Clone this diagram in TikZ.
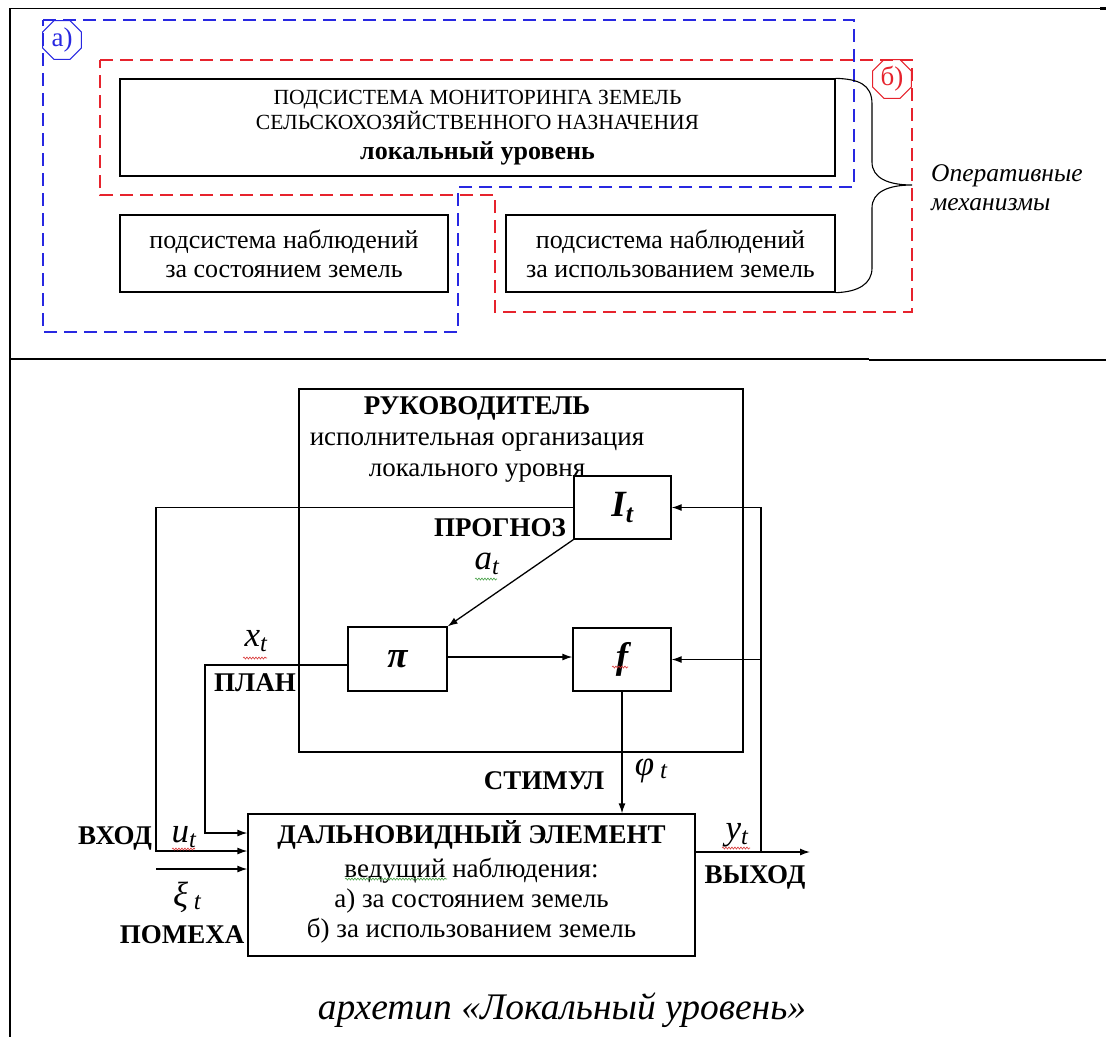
\documentclass[tikz,border=0pt]{standalone}
\usepackage{fontspec}
\setmainfont{Liberation Serif}
\usetikzlibrary{shapes.geometric,arrows.meta,decorations.pathmorphing}

\definecolor{zblue}{RGB}{40,40,225}
\definecolor{zred}{RGB}{230,35,45}
\definecolor{sqred}{RGB}{215,50,50}
\definecolor{sqgreen}{RGB}{70,160,70}

\newcommand\fs[2]{\fontsize{#1}{#2}\selectfont}
\newcommand\vsub[2]{#1\textsubscript{#2}}

\begin{document}
\begin{tikzpicture}[x=1pt,y=-1pt,
  frameline/.style={line width=2pt},
  box/.style={draw, line width=1.3pt, align=center, inner sep=0pt},
  zoneblue/.style={draw=zblue, line width=1.6pt, dash pattern=on 13pt off 7pt},
  zonered/.style={draw=zred, line width=1.6pt, dash pattern=on 13pt off 7pt},
  tag/.style={regular polygon, regular polygon sides=8, minimum size=42pt,
    inner sep=0pt, line width=1pt, font=\fs{27}{28}},
  wire/.style={line width=1.3pt},
  arr/.style={wire, -{Latex[length=10pt,width=7pt]}},
  lbl/.style={inner sep=0pt, font=\fs{27}{28}\bfseries},
  sym/.style={inner sep=0pt, font=\fs{35}{35}\itshape},
  squig/.style={decorate, decoration={snake, amplitude=1pt, segment length=3pt},
    line width=0.6pt},
]
\useasboundingbox (0,0) rectangle (1106,1037);

% table rules
\draw[frameline] (10,8) -- (10,1037);
\draw[line width=1.5pt] (9,8.5) -- (1100,8.5);
\draw[line width=2.5pt] (1100,8.5) -- (1106,8.5);
\draw[line width=1.3pt] (9,359) -- (869,359);
\draw[line width=2.5pt] (869,360) -- (1106,360);

% ---------- upper panel ----------
\draw[zoneblue] (43,20) -- (854,20) -- (854,187) -- (458,187) -- (458,332) -- (43,332) -- cycle;
\draw[zonered] (100,60) -- (912,60) -- (912,312) -- (495,312) -- (495,195) -- (100,195) -- cycle;

\node[tag, draw=zblue, text=zblue] (ta) at (62,40) {а)};
\node[tag, draw=zred, text=zred] (tb) at (892,79) {б)};

\node[box, minimum width=715, minimum height=97, font=\fs{21.6}{25}] (mon) at (477.5,127.5)
  {ПОДСИСТЕМА МОНИТОРИНГА ЗЕМЕЛЬ\\ СЕЛЬСКОХОЗЯЙСТВЕННОГО НАЗНАЧЕНИЯ\\[5pt]
   {\fs{26}{28}\bfseries локальный уровень}};
\node[box, minimum width=328, minimum height=77, font=\fs{26}{29}] (obs1) at (284,253.5)
  {подсистема наблюдений\\за состоянием земель};
\node[box, minimum width=329, minimum height=77, font=\fs{26}{29}] (obs2) at (670.5,253.5)
  {подсистема наблюдений\\за использованием земель};

% brace grouping the operative mechanisms
\coordinate (tip) at (912,185);
\draw[line width=1.1pt] (mon.north east) .. controls (858,79) and (872,84) .. (872,104)
  -- (872,162) .. controls (872,178) and (888,185) .. (tip)
  .. controls (888,185) and (872,192) .. (872,208)
  -- (872,268) .. controls (872,284) and (858,292) .. (obs2.south east);
\node[anchor=west, align=left, inner sep=0pt, font=\fs{25.5}{29}\itshape] (oper) at (931,188)
  {Оперативные\\механизмы};

% ---------- lower panel ----------
\node[box, minimum width=444, minimum height=363] (ruk) at (521,570.5) {};
\node[align=center, inner sep=0pt, font=\fs{27}{31}] (rukt) at (477,439)
  {\textbf{РУКОВОДИТЕЛЬ}\\исполнительная организация\\локального уровня};

\node[box, fill=white, minimum width=97, minimum height=63, font=\fs{37}{37}\bfseries\itshape]
  (It) at (622.5,507.5) {\vsub{I}{t}};
\node[box, minimum width=99, minimum height=64, font=\fs{37}{37}\bfseries\itshape]
  (pi) at (397.5,659) {π};
\node[box, minimum width=98, minimum height=63, font=\fs{37}{37}\bfseries\itshape]
  (f) at (622,659.5) {f};
\node[box, minimum width=447, minimum height=142] (dal) at (471.5,885) {};
\node[align=center, inner sep=0pt, font=\fs{27}{30}] (dalt) at (471.5,882)
  {\textbf{ДАЛЬНОВИДНЫЙ ЭЛЕМЕНТ}\\[4pt] ведущий наблюдения:\\ а) за состоянием земель\\ б) за использованием земель};

% bend points of the connectors
\coordinate (uIn) at (156,851);
\coordinate (xIn) at (205,833);
\coordinate (xiIn) at (156,869);
\coordinate (outEnd) at (810,852);
\coordinate (fb) at (761,852);

\draw[arr] (It.west) -| (uIn) -- (uIn -| dal.west);
\draw[arr] (It.south west) -- (pi.north east);
\draw[arr] ([yshift=2pt]pi.east) -- ([yshift=2pt]pi.east -| f.west);
\draw[arr] ([yshift=-6pt]pi.west) -| (xIn) -- (xIn -| dal.west);
\draw[arr] (xiIn) -- (xiIn -| dal.west);
\draw[arr] (f.south) -- (f.south |- dal.north);
\draw[arr] (outEnd -| dal.east) -- (outEnd);
\draw[arr] (fb) |- (It.east);
\draw[arr] (fb |- f.east) -- (f.east);

% signal labels
\node[lbl] (progn) at (500,528) {ПРОГНОЗ};
\node[sym] (at) at (487,564) {\vsub{a}{t}};
\node[sym] (xt) at (256,641) {\vsub{x}{t}};
\node[lbl] (plan) at (255,683) {ПЛАН};
\node[lbl] (stim) at (544,781) {СТИМУЛ};
\node[sym] (phit) at (651,771) {φ\,\raisebox{-3pt}{\fs{25}{25}t}};
\node[lbl] (vhod) at (115,838) {ВХОД};
\node[sym] (ut) at (184,837) {\vsub{u}{t}};
\node[sym] (xit) at (187,897) {ξ\,\raisebox{-3pt}{\fs{25}{25}t}};
\node[lbl] (pomeha) at (182,935) {ПОМЕХА};
\node[sym] (yt) at (737,835) {\vsub{y}{t}};
\node[lbl] (vyhod) at (755,877) {ВЫХОД};

% spell-check underlines
\draw[squig, draw=sqgreen] (475,579) -- (497,579);
\draw[squig, draw=sqred] (243,658) -- (267,658);
\draw[squig, draw=sqred] (172,849) -- (195,849);
\draw[squig, draw=sqred] (612,667) -- (628,667);
\draw[squig, draw=sqred] (722,848) -- (750,848);
\draw[squig, draw=sqgreen] (345,879) -- (447,879);

\node[inner sep=0pt, font=\fs{37.5}{40}\itshape] (caption) at (562,1010)
  {архетип «Локальный уровень»};
\end{tikzpicture}
\end{document}
